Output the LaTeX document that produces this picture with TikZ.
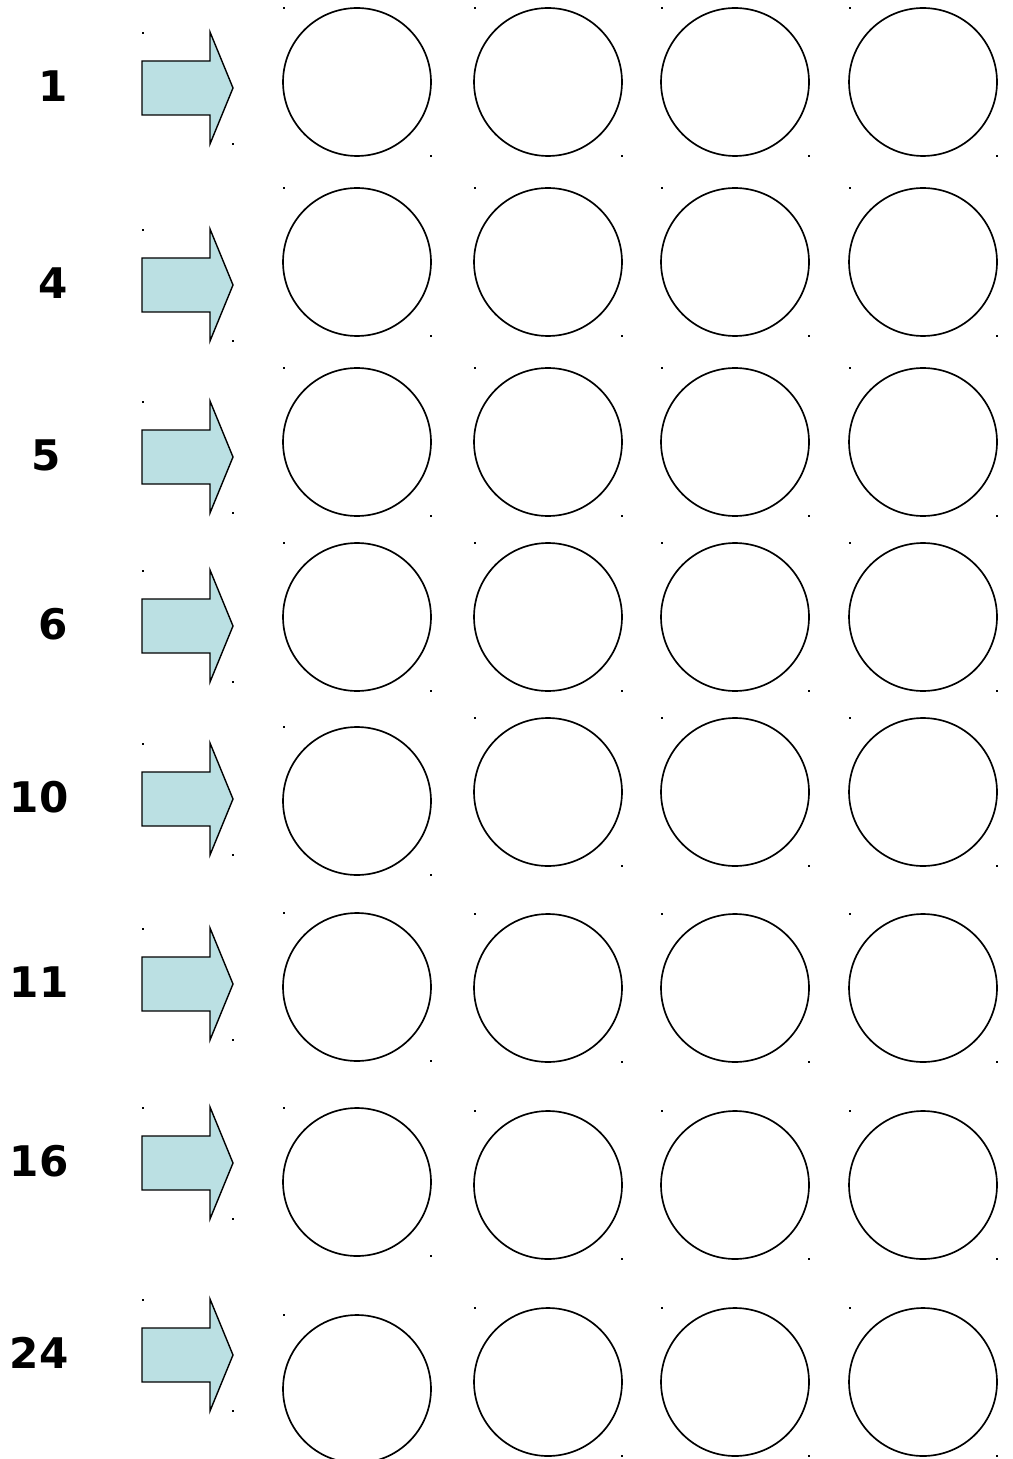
\documentclass[tikz,border=0pt]{standalone}
\usepackage{xcolor}
\usepackage{fontspec}
\setmainfont{DejaVu Sans}
\usepackage{tikz}
\usetikzlibrary{positioning}

\definecolor{arrowfill}{RGB}{187,224,227}

\begin{document}
\begin{tikzpicture}[
  x=0.02cm, y=-0.02cm,
  every node/.style={align=center},
  num/.style={font=\bfseries\fontsize{24}{29}\selectfont, inner sep=0pt},
  ring/.style={draw, circle, line width=0.95pt, minimum size=2.96cm, inner sep=0pt},
  fatarrow/.style={draw, line width=0.8pt, fill=arrowfill},
  cornerdot/.style={fill=black}
]
\useasboundingbox (0,0) rectangle (1013,1459);

% one row per label: label/label x/arrow y/first circle y/other circles y
\foreach \lab/\lx/\ay/\ya/\yb in {1/53/88/82/82, 4/53/285/262/262, 5/46/457/442/442,
    6/53/626/617/617, 10/39/799/801/792, 11/39/984/987/988,
    16/39/1163/1182/1185, 24/39/1355/1389/1382}{
  \node[num] (lab\lab) at (\lx,\ay-2) {\lab};
  \draw[fatarrow] (142,\ay-27) -- (210,\ay-27) -- (210,\ay-56) -- (233,\ay)
    -- (210,\ay+56) -- (210,\ay+27) -- (142,\ay+27) -- cycle;
  \fill[cornerdot] (142,\ay-56) rectangle ++(2,2);
  \fill[cornerdot] (232,\ay+55) rectangle ++(2,2);
  \foreach \c/\cx in {1/357,2/548,3/735,4/923}{
    \ifnum\c=1 \def\cy{\ya}\else \def\cy{\yb}\fi
    \node[ring] (c\lab-\c) at (\cx,\cy) {};
    \fill[cornerdot] (\cx-74,\cy-75) rectangle ++(2,2);
    \fill[cornerdot] (\cx+73,\cy+73) rectangle ++(2,2);
  }
}
\end{tikzpicture}
\end{document}
